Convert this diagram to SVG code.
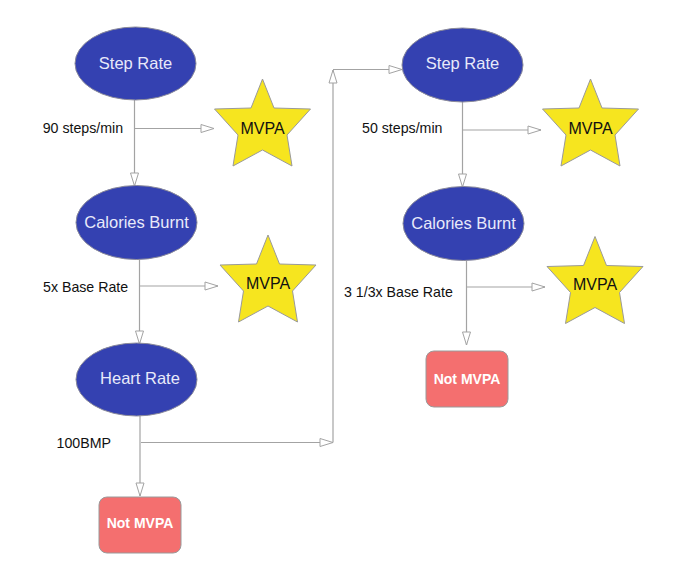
<svg xmlns="http://www.w3.org/2000/svg" width="678" height="570" viewBox="0 0 678 570">
<style>
.oval{fill:#3441b1;stroke:#8a8a9a;stroke-width:1}
.otxt{font-family:"Liberation Sans",Arial,sans-serif;font-size:16.5px;fill:#e8eafa;text-anchor:middle}
.star{fill:#f6e51f;stroke:#9a9a9a;stroke-width:1}
.stxt{font-family:"Liberation Sans",Arial,sans-serif;font-size:16px;fill:#111;text-anchor:middle}
.box{fill:#f46f6f;stroke:#9a9a9a;stroke-width:1}
.btxt{font-family:"Liberation Sans",Arial,sans-serif;font-size:14px;font-weight:bold;fill:#fff;text-anchor:middle}
.lbl{font-family:"Liberation Sans",Arial,sans-serif;font-size:14.2px;fill:#111}
.con{fill:none;stroke:#a3a3a3;stroke-width:1.2;marker-end:url(#arr)}
</style>
<defs>
<marker id="arr" markerUnits="userSpaceOnUse" markerWidth="16" markerHeight="12" refX="14" refY="5" orient="auto">
<path d="M1,1 L14,5 L1,9 Z" fill="#fff" stroke="#a3a3a3" stroke-width="1"/>
</marker>
<polygon id="starshape" points="0,-49 11.5,-20 48,-19 24.5,7 29.5,38 0,22 -29.5,38 -24.5,7 -48,-19 -11.5,-20"/>
</defs>
<rect width="678" height="570" fill="#fff"/>
<g id="connectors">
<path class="con" d="M134.5,100 V186"/>
<path class="con" d="M134.5,128.5 H214"/>
<path class="con" d="M139.5,260 V344"/>
<path class="con" d="M139.5,286 H218"/>
<path class="con" d="M140,416 V496"/>
<path class="con" d="M141,442.5 H333"/>
<path class="con" d="M333,442.5 V70"/>
<path class="con" d="M333,69.5 H402"/>
<path class="con" d="M462.5,102 V187"/>
<path class="con" d="M462.5,130 H541"/>
<path class="con" d="M466.5,261 V345"/>
<path class="con" d="M466.5,287 H545"/>
</g>
<g id="labels">
<text class="lbl" x="42.7" y="133">90 steps/min</text>
<text class="lbl" x="43" y="291.5">5x Base Rate</text>
<text class="lbl" x="56.5" y="447.5">100BMP</text>
<text class="lbl" x="362" y="132.5">50 steps/min</text>
<text class="lbl" x="344" y="296.5">3 1/3x Base Rate</text>
</g>
<g id="step-rate-1"><ellipse class="oval" cx="135.5" cy="63.5" rx="60.5" ry="36.5"/><text class="otxt" x="135.5" y="68.5">Step Rate</text></g>
<g id="calories-1"><ellipse class="oval" cx="136.5" cy="222.5" rx="60.5" ry="37"/><text class="otxt" x="136.5" y="228">Calories Burnt</text></g>
<g id="heart-rate"><ellipse class="oval" cx="136.5" cy="379.5" rx="60.5" ry="36.5"/><text class="otxt" x="140" y="384">Heart Rate</text></g>
<g id="step-rate-2"><ellipse class="oval" cx="462.5" cy="65" rx="60.5" ry="37"/><text class="otxt" x="462.5" y="69">Step Rate</text></g>
<g id="calories-2"><ellipse class="oval" cx="463.5" cy="223.5" rx="60.5" ry="37"/><text class="otxt" x="463.5" y="228.5">Calories Burnt</text></g>
<g id="mvpa-1"><use href="#starshape" class="star" transform="translate(262.5,128)"/><text class="stxt" x="262.5" y="133.5">MVPA</text></g>
<g id="mvpa-2"><use href="#starshape" class="star" transform="translate(268,284)"/><text class="stxt" x="268" y="289">MVPA</text></g>
<g id="mvpa-3"><use href="#starshape" class="star" transform="translate(590.5,128)"/><text class="stxt" x="590.5" y="133.5">MVPA</text></g>
<g id="mvpa-4"><use href="#starshape" class="star" transform="translate(595,285.5)"/><text class="stxt" x="595" y="289.5">MVPA</text></g>
<g id="not-mvpa-1"><rect class="box" x="99" y="497" width="82" height="56" rx="8"/><text class="btxt" x="140" y="528">Not MVPA</text></g>
<g id="not-mvpa-2"><rect class="box" x="426" y="351" width="82" height="56" rx="8"/><text class="btxt" x="467" y="383.5">Not MVPA</text></g>
</svg>
